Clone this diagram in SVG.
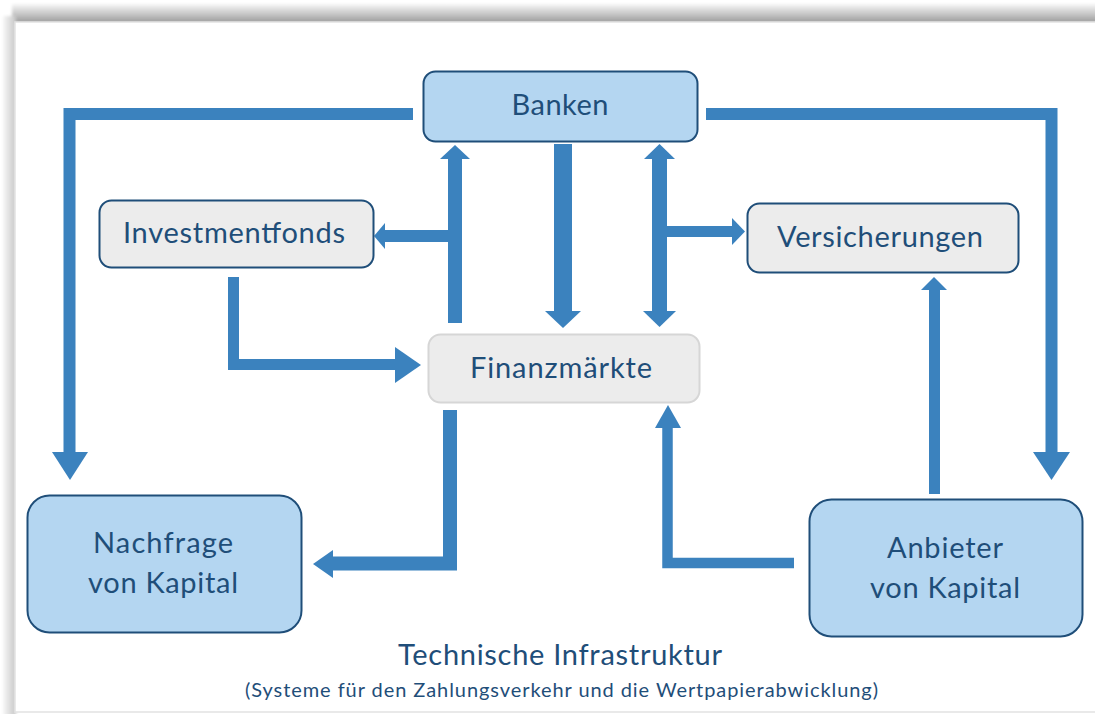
<svg xmlns="http://www.w3.org/2000/svg" width="1095" height="714" viewBox="0 0 1095 714">
  <defs>
    <linearGradient id="shadeTop" x1="0" y1="0" x2="0" y2="1">
      <stop offset="0" stop-color="#f7f7f7"/>
      <stop offset="0.55" stop-color="#c4c4c4"/>
      <stop offset="1" stop-color="#989898"/>
    </linearGradient>
    <linearGradient id="shadeLeft" x1="0" y1="0" x2="1" y2="0">
      <stop offset="0" stop-color="#f7f7f7"/>
      <stop offset="1" stop-color="#c6c6c6"/>
    </linearGradient>
    <filter id="soft" x="-5%" y="-5%" width="110%" height="110%">
      <feGaussianBlur stdDeviation="1.5"/>
    </filter>
  </defs>
  <style>
    .bar { fill: none; stroke: #3b82be; stroke-linejoin: miter; stroke-linecap: butt; }
    .head { fill: #3b82be; }
    .blue { fill: #b4d6f1; stroke: #1f4e79; stroke-width: 2; }
    .grey { fill: #ececec; stroke: #1f4e79; stroke-width: 2; }
    .market { fill: #ececec; stroke: #d6d6d6; stroke-width: 2; }
    .lbl { font-family: Lato, "Liberation Sans", sans-serif; font-size: 29px; fill: #1f4e79; text-anchor: middle; }
    .sub { font-family: Lato, "Liberation Sans", sans-serif; font-size: 20px; fill: #1f4e79; text-anchor: middle; }
  </style>

  <!-- page with its shadow -->
  <rect x="0" y="0" width="1095" height="714" fill="#ffffff"/>
  <g filter="url(#soft)">
    <rect x="12" y="4" width="1090" height="19" fill="url(#shadeTop)"/>
    <rect x="3" y="16" width="13" height="700" fill="url(#shadeLeft)"/>
  </g>
  <rect x="15" y="22" width="1085" height="690" fill="#ffffff" stroke="#e2e2e2" stroke-width="1.5"/>

  <!-- connectors -->
  <g id="connectors">
    <!-- Banken to Nachfrage -->
    <path class="bar" stroke-width="12" d="M413 114 H69.5 V452"/>
    <polygon class="head" points="52,452 88,452 70,480"/>
    <!-- Banken to Anbieter -->
    <path class="bar" stroke-width="12" d="M706 114 H1051.5 V452"/>
    <polygon class="head" points="1033,452 1070,452 1051.5,480"/>
    <!-- Finanzmaerkte up to Banken, branch to Investmentfonds -->
    <path class="bar" stroke-width="14" d="M455 323 V159"/>
    <polygon class="head" points="440,159 470,159 455,145"/>
    <path class="bar" stroke-width="12" d="M449 236 H385"/>
    <polygon class="head" points="385,223 385,249 374,236"/>
    <!-- Banken down to Finanzmaerkte -->
    <path class="bar" stroke-width="18" d="M563 144 V311"/>
    <polygon class="head" points="545,311 581,311 563,328"/>
    <!-- two-way link Banken / Finanzmaerkte, branch to Versicherungen -->
    <path class="bar" stroke-width="15" d="M659.5 159 V311"/>
    <polygon class="head" points="644,159 675,159 659.5,144"/>
    <polygon class="head" points="643,311 676,311 659.5,327"/>
    <path class="bar" stroke-width="11" d="M666 231.5 H732"/>
    <polygon class="head" points="732,218 732,245 745,231.5"/>
    <!-- Investmentfonds to Finanzmaerkte -->
    <path class="bar" stroke-width="11" d="M233.5 277 V364.5 H395"/>
    <polygon class="head" points="395,347 395,383 421,365"/>
    <!-- Finanzmaerkte to Nachfrage -->
    <path class="bar" stroke-width="14" d="M450 410 V563.5 H333"/>
    <polygon class="head" points="333,550 333,578 313,564"/>
    <!-- Anbieter to Finanzmaerkte -->
    <path class="bar" stroke-width="10.5" d="M794 563 H667.5 V428"/>
    <polygon class="head" points="655,428 681,428 668,405"/>
    <!-- Anbieter to Versicherungen -->
    <path class="bar" stroke-width="11" d="M934.5 494 V290"/>
    <polygon class="head" points="921,290 947,290 934,277"/>
  </g>

  <!-- nodes -->
  <g id="banken">
    <rect class="blue" x="423.5" y="71.5" width="274" height="70" rx="12"/>
    <text class="lbl" x="560" y="115" textLength="97" lengthAdjust="spacing">Banken</text>
  </g>
  <g id="investmentfonds">
    <rect class="grey" x="99.5" y="200.5" width="274" height="67" rx="12"/>
    <text class="lbl" x="234" y="243" textLength="222" lengthAdjust="spacing">Investmentfonds</text>
  </g>
  <g id="versicherungen">
    <rect class="grey" x="747.5" y="203.5" width="271" height="69" rx="12"/>
    <text class="lbl" x="880" y="247" textLength="206" lengthAdjust="spacing">Versicherungen</text>
  </g>
  <g id="finanzmaerkte">
    <rect class="market" x="428.5" y="334.5" width="271" height="68" rx="12"/>
    <text class="lbl" x="561" y="378" textLength="182" lengthAdjust="spacing">Finanzmärkte</text>
  </g>
  <g id="nachfrage">
    <rect class="blue" x="27.5" y="495.5" width="274" height="137" rx="22"/>
    <text class="lbl" x="163" y="553" textLength="140" lengthAdjust="spacing">Nachfrage</text>
    <text class="lbl" x="163" y="593" textLength="150" lengthAdjust="spacing">von Kapital</text>
  </g>
  <g id="anbieter">
    <rect class="blue" x="809.5" y="499.5" width="273" height="137" rx="22"/>
    <text class="lbl" x="945" y="558" textLength="116" lengthAdjust="spacing">Anbieter</text>
    <text class="lbl" x="945" y="598" textLength="150" lengthAdjust="spacing">von Kapital</text>
  </g>
  <g id="infrastruktur">
    <text class="lbl" x="560" y="665" textLength="324" lengthAdjust="spacing">Technische Infrastruktur</text>
    <text class="sub" x="561.5" y="697" textLength="633" lengthAdjust="spacing">(Systeme für den Zahlungsverkehr und die Wertpapierabwicklung)</text>
  </g>
</svg>
